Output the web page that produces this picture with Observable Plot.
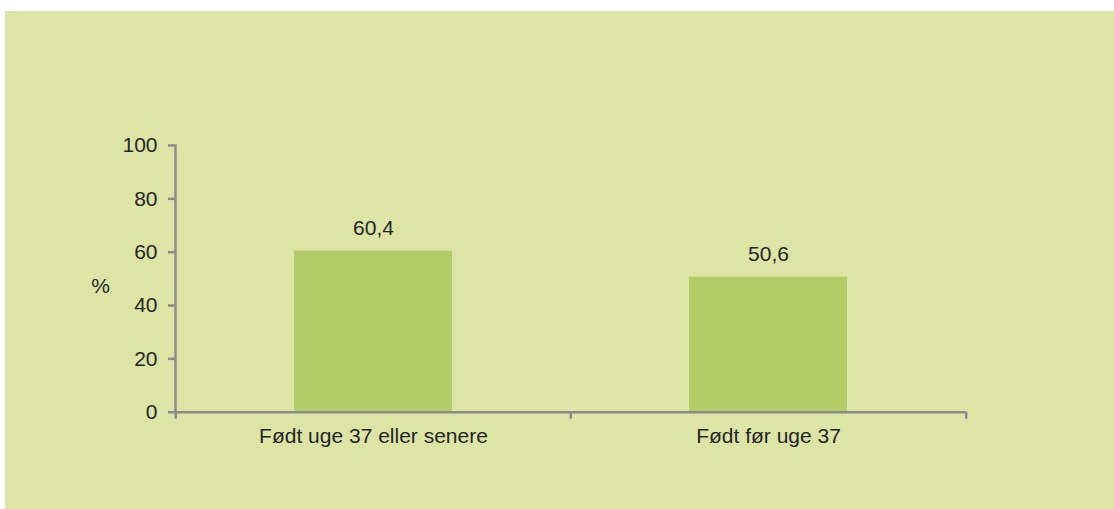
<!DOCTYPE html>
<html>
<head>
<meta charset="utf-8">
<script src="https://cdn.jsdelivr.net/npm/d3@7"></script>
<script src="https://cdn.jsdelivr.net/npm/@observablehq/plot@0.6"></script>
<style>
  html, body { margin: 0; padding: 0; background: #ffffff; }
  #panel { position: absolute; left: 5px; top: 11px; width: 1109px; height: 498px; background: #dce4a6; }
  #panel svg { display: block; }
</style>
</head>
<body>
<div id="panel"></div>
<script>
const categories = ["Født uge 37 eller senere", "Født før uge 37"];
const values = [60.4, 50.6];
const yTicks = [0, 20, 40, 60, 80, 100];
const yLabel = "%";

const data = categories.map((c, i) => ({category: c, value: values[i]}));

const W = 1109, H = 498;
const mL = 170, mR = 148, mT = 134, mB = 97.3;
const step = (W - mL - mR) / categories.length;
const axisColor = "#8c8c8c";
const textColor = "#262626";
const fmt = v => d3.format(".1f")(v).replace(".", ",");

const chart = Plot.plot({
  width: W,
  height: H,
  marginLeft: mL,
  marginRight: mR,
  marginTop: mT,
  marginBottom: mB,
  style: {background: "transparent", fontFamily: "'Liberation Sans', Arial, sans-serif", fontSize: "21px", color: textColor, overflow: "visible"},
  x: {domain: categories, paddingInner: 0.6, paddingOuter: 0.3},
  y: {domain: [0, 100]},
  marks: [
    Plot.barY(data, {x: "category", y: "value", fill: "#b4cc68"}),
    Plot.text(data, {x: "category", y: "value", text: d => fmt(d.value), lineAnchor: "bottom", dy: -16.5, fill: textColor, fontSize: 21}),
    Plot.frame({anchor: "left", stroke: axisColor, strokeWidth: 2.5}),
    Plot.ruleY([0], {stroke: axisColor, strokeWidth: 2.5}),
    Plot.ruleX(categories, {x: d => d, y1: 0, y2: 0, dx: -step / 2, insetBottom: -7, stroke: axisColor, strokeWidth: 2.5}),
    Plot.ruleX([categories[categories.length - 1]], {x: d => d, y1: 0, y2: 0, dx: step / 2, insetBottom: -7, stroke: axisColor, strokeWidth: 2.5}),
    Plot.axisY({ticks: yTicks, tickSize: 7, tickPadding: 11, stroke: axisColor, strokeWidth: 2.5, strokeOpacity: 1, fill: textColor, fontSize: 21, label: null}),
    Plot.axisX({tickSize: 0, tickPadding: 16, fill: textColor, fontSize: 21, label: null}),
    Plot.text([yLabel], {frameAnchor: "left", dx: -75, dy: 7, textAnchor: "middle", fill: textColor, fontSize: 21})
  ]
});
document.getElementById("panel").appendChild(chart);
</script>
</body>
</html>
